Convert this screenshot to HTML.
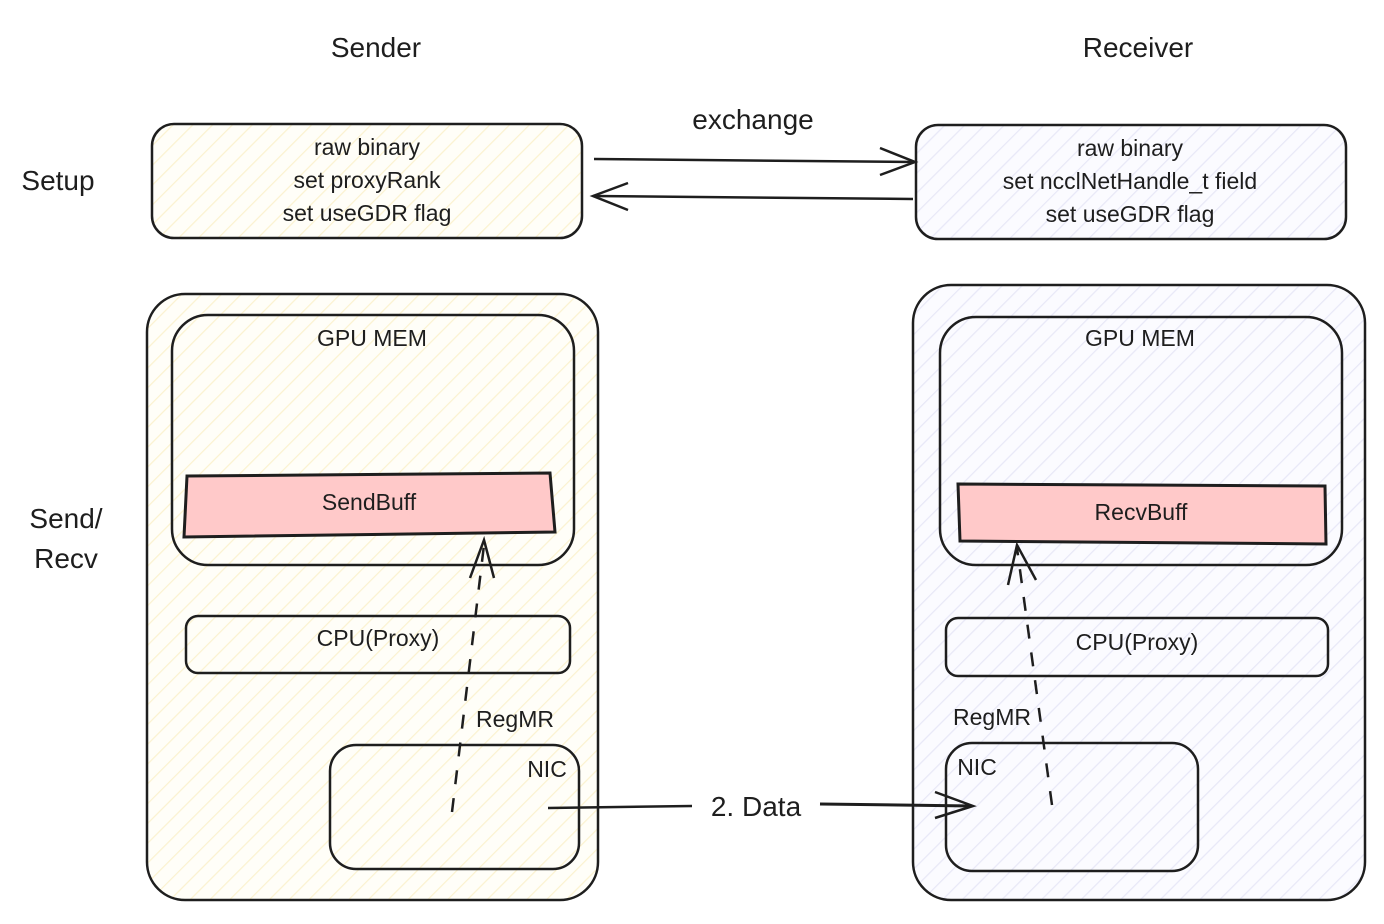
<!DOCTYPE html>
<html><head><meta charset="utf-8"><style>
html,body{margin:0;padding:0;background:#fff;width:1384px;height:924px;overflow:hidden}
text{font-family:"Liberation Sans",sans-serif;fill:#1e1e1e}
</style></head><body>
<svg width="1384" height="924" viewBox="0 0 1384 924" xmlns="http://www.w3.org/2000/svg">
<defs>
<pattern id="hy" width="14" height="14" patternUnits="userSpaceOnUse" patternTransform="rotate(45)">
<rect width="14" height="14" fill="#fffef8"/><line x1="0" y1="0" x2="0" y2="14" stroke="#fbf2d0" stroke-width="2.5"/></pattern>
<pattern id="hb" width="14" height="14" patternUnits="userSpaceOnUse" patternTransform="rotate(45)">
<rect width="14" height="14" fill="#fbfbff"/><line x1="0" y1="0" x2="0" y2="14" stroke="#e8e8f7" stroke-width="2.5"/></pattern>
</defs>
<g stroke="#1e1e1e" stroke-width="2.5" fill="none">
<rect x="152" y="124" width="430" height="114" rx="22" fill="url(#hy)"/>
<rect x="916" y="125" width="430" height="114" rx="22" fill="url(#hb)"/>
<rect x="147" y="294" width="451" height="606" rx="38" fill="url(#hy)"/>
<rect x="913" y="285" width="452" height="615" rx="38" fill="url(#hb)"/>
<rect x="172" y="315" width="402" height="250" rx="36" fill="url(#hy)"/>
<rect x="940" y="317" width="402" height="248" rx="36" fill="url(#hb)"/>
<path d="M187 476 L550 473 L555 532 L184 537 Z" fill="#ffc9c9" stroke-width="3"/>
<path d="M958 484 L1325 486 L1326 544 L960 541 Z" fill="#ffc9c9" stroke-width="3"/>
<rect x="186" y="616" width="384" height="57" rx="12" fill="url(#hy)"/>
<rect x="946" y="618" width="382" height="58" rx="12" fill="url(#hb)"/>
<rect x="330" y="745" width="249" height="124" rx="26" fill="url(#hy)"/>
<rect x="946" y="743" width="252" height="128" rx="26" fill="url(#hb)"/>
<path d="M594 159 L914 162"/>
<path d="M880 148 L915 162 L880 175"/>
<path d="M913 199 L593 196"/>
<path d="M628 183 L593 196 L628 210"/>
<path d="M452 812 L484 545" stroke-dasharray="14 14"/>
<path d="M470 578 L484 540 L494 578"/>
<path d="M1052 805 L1017 548" stroke-dasharray="14 14"/>
<path d="M1008 585 L1017 545 L1036 580"/>
<path d="M548 808 L692 806"/>
<path d="M820 804 L972 806" stroke-width="3"/>
<path d="M935 792 L973 806 L935 818"/>
</g>
<g font-size="28" text-anchor="middle">
<text x="376" y="57">Sender</text>
<text x="1138" y="57">Receiver</text>
<text x="58" y="190">Setup</text>
<text x="66" y="528">Send/</text>
<text x="66" y="568">Recv</text>
<text x="753" y="129">exchange</text>
</g>
<g font-size="23" text-anchor="middle">
<text x="367" y="155">raw binary</text>
<text x="367" y="188">set proxyRank</text>
<text x="367" y="221">set useGDR flag</text>
<text x="1130" y="156">raw binary</text>
<text x="1130" y="189">set ncclNetHandle_t field</text>
<text x="1130" y="222">set useGDR flag</text>
<text x="372" y="346">GPU MEM</text>
<text x="1140" y="346">GPU MEM</text>
<text x="369" y="510">SendBuff</text>
<text x="1141" y="520">RecvBuff</text>
<text x="378" y="646">CPU(Proxy)</text>
<text x="1137" y="650">CPU(Proxy)</text>
<text x="515" y="727">RegMR</text>
<text x="992" y="725">RegMR</text>
<text x="547" y="777">NIC</text>
<text x="977" y="775">NIC</text>
</g>
<text x="756" y="816" font-size="28" text-anchor="middle">2. Data</text>
</svg>
</body></html>
